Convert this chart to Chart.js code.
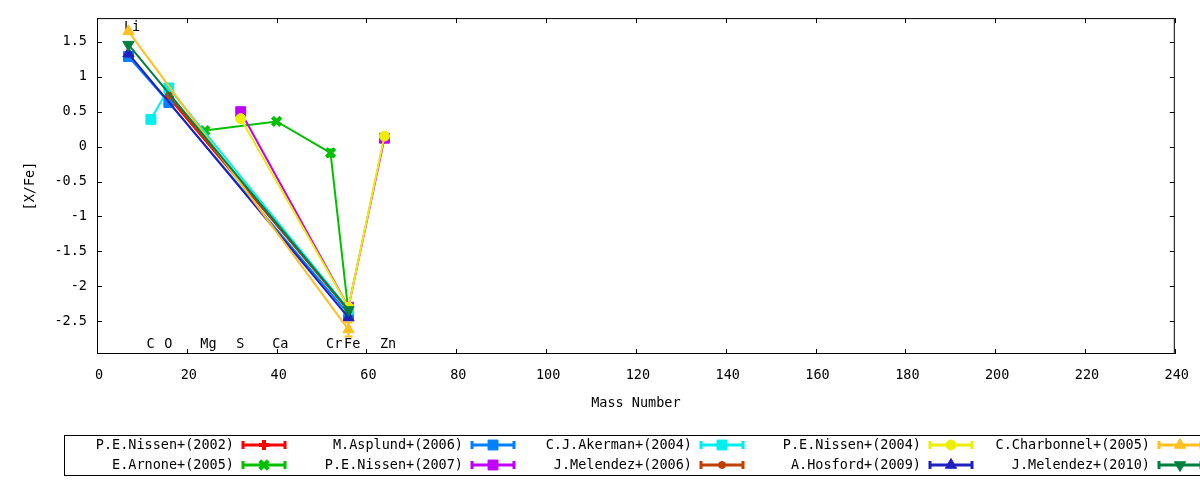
<!DOCTYPE html>
<html>
<head>
<meta charset="utf-8">
<script src="https://cdn.jsdelivr.net/npm/chart.js@4/dist/chart.umd.min.js"></script>
<style>
    html, body { margin: 0; padding: 0; background: #ffffff; }
    #chart { display: block; }
</style>
</head>
<body>
<canvas id="chart" width="1200" height="480"></canvas>
<script>
// Elements and their mass numbers
const elementSymbols = ['Li', 'C', 'O', 'Mg', 'S', 'Ca', 'Cr', 'Fe', 'Zn'];
const massNumbers = [7, 12, 16, 24, 32, 40, 52, 56, 64];

// Series (legend order, column by column)
const seriesLabels = [
    'P.E.Nissen+(2002)', 'E.Arnone+(2005)', 'M.Asplund+(2006)', 'P.E.Nissen+(2007)',
    'C.J.Akerman+(2004)', 'J.Melendez+(2006)', 'P.E.Nissen+(2004)', 'A.Hosford+(2009)',
    'C.Charbonnel+(2005)', 'J.Melendez+(2010)'
];
const seriesColors = [
    '#ff0000', '#00c000', '#0080ff', '#c000ff', '#00eeee',
    '#c04000', '#eeee00', '#2020c0', '#ffc020', '#008040'
];

const nissen2002Elements = ['O', 'Fe'];
const nissen2002Values = [0.70, -2.34];

const arnone2005Elements = ['Mg', 'Ca', 'Cr', 'Fe'];
const arnone2005Values = [0.23, 0.36, -0.09, -2.38];
const arnone2005Errors = [0, 0, 0.05, 0];

const asplund2006Elements = ['Li', 'O', 'Fe'];
const asplund2006Values = [1.29, 0.63, -2.40];

const nissen2007Elements = ['S', 'Fe', 'Zn'];
const nissen2007Values = [0.50, -2.30, 0.12];

const akerman2004Elements = ['C', 'O', 'Fe'];
const akerman2004Values = [0.39, 0.84, -2.33];

const melendez2006Elements = ['O', 'Fe'];
const melendez2006Values = [0.73, -2.35];

const nissen2004Elements = ['S', 'Fe', 'Zn'];
const nissen2004Values = [0.40, -2.30, 0.15];

const hosford2009Elements = ['Li', 'Fe'];
const hosford2009Values = [1.33, -2.45];

const charbonnel2005Elements = ['Li', 'Fe'];
const charbonnel2005Values = [1.65, -2.62];
const charbonnel2005Errors = [0, 0.10];

const melendez2010Elements = ['Li', 'Fe'];
const melendez2010Values = [1.46, -2.34];

const seriesElements = [
    nissen2002Elements, arnone2005Elements, asplund2006Elements, nissen2007Elements,
    akerman2004Elements, melendez2006Elements, nissen2004Elements, hosford2009Elements,
    charbonnel2005Elements, melendez2010Elements
];
const seriesValues = [
    nissen2002Values, arnone2005Values, asplund2006Values, nissen2007Values,
    akerman2004Values, melendez2006Values, nissen2004Values, hosford2009Values,
    charbonnel2005Values, melendez2010Values
];
const seriesErrors = [
    null, arnone2005Errors, null, null, null, null, null, null, charbonnel2005Errors, null
];

// marker look per series (gnuplot point types)
const markerStyles = ['cross', 'crossRot', 'rect', 'rect', 'rect', 'circle', 'circle', 'triangle', 'triangle', 'triangle'];
const markerRadius = [5, 6, 7, 7, 7, 3.5, 5, 6.5, 6.5, 6.5];
const markerRotation = [0, 0, 0, 0, 0, 0, 0, 0, 0, 180];

const FONT = '"DejaVu Sans Mono", "Liberation Mono", monospace';
const FONT_SIZE = 13.5;

function massOf(symbol) {
    return massNumbers[elementSymbols.indexOf(symbol)];
}

function markerBorder(i) {
    return (markerStyles[i] === 'cross' || markerStyles[i] === 'crossRot') ? 4 : 1;
}

const datasets = seriesLabels.map((label, i) => ({
    label: label,
    data: seriesElements[i].map((el, j) => ({ x: massOf(el), y: seriesValues[i][j] })),
    errors: seriesErrors[i],
    borderColor: seriesColors[i],
    backgroundColor: seriesColors[i],
    borderWidth: 2,
    pointStyle: markerStyles[i],
    pointRadius: markerRadius[i],
    pointRotation: markerRotation[i],
    pointBorderWidth: markerBorder(i),
    pointBackgroundColor: seriesColors[i],
    pointBorderColor: seriesColors[i],
    tension: 0,
    fill: false,
    showLine: true,
    order: seriesLabels.length - i   // later series on top, like gnuplot
}));

function drawMarker(ctx, i, x, y) {
    const opts = {
        pointStyle: markerStyles[i],
        radius: markerRadius[i],
        rotation: markerRotation[i],
        borderWidth: markerBorder(i)
    };
    ctx.save();
    ctx.fillStyle = seriesColors[i];
    ctx.strokeStyle = seriesColors[i];
    ctx.lineWidth = opts.borderWidth;
    if (Chart.helpers && Chart.helpers.drawPoint) {
        Chart.helpers.drawPoint(ctx, opts, x, y);
    } else {
        ctx.beginPath();
        ctx.arc(x, y, opts.radius, 0, Math.PI * 2);
        ctx.fill();
    }
    ctx.restore();
}

// Box, inward ticks and element labels
const framePlugin = {
    id: 'frame',
    beforeDatasetsDraw(chart) {
        const { ctx, chartArea: a, scales: { x, y } } = chart;
        ctx.save();
        ctx.strokeStyle = '#000';
        ctx.lineWidth = 1;
        ctx.strokeRect(a.left + 0.5, a.top + 0.5, a.right - a.left - 1, a.bottom - a.top - 1);
        ctx.beginPath();
        const tl = 5;
        x.ticks.forEach(t => {
            const px = Math.round(x.getPixelForValue(t.value)) + 0.5;
            ctx.moveTo(px, a.bottom); ctx.lineTo(px, a.bottom - tl);
            ctx.moveTo(px, a.top); ctx.lineTo(px, a.top + tl);
        });
        y.ticks.forEach(t => {
            const py = Math.round(y.getPixelForValue(t.value)) + 0.5;
            ctx.moveTo(a.left, py); ctx.lineTo(a.left + tl, py);
            ctx.moveTo(a.right, py); ctx.lineTo(a.right - tl, py);
        });
        ctx.stroke();

        // element labels, left aligned one mass unit before the element
        ctx.fillStyle = '#000';
        ctx.font = FONT_SIZE + 'px ' + FONT;
        ctx.textAlign = 'left';
        ctx.textBaseline = 'middle';
        elementSymbols.forEach((el, k) => {
            const lx = x.getPixelForValue(massNumbers[k] - 1);
            const ly = y.getPixelForValue(el === 'Li' ? 1.70 : -2.84);
            ctx.fillText(el, lx, ly);
        });
        ctx.restore();
    },
    afterDatasetsDraw(chart) {
        const { ctx, scales: { y } } = chart;
        ctx.save();
        chart.data.datasets.forEach((ds, i) => {
            if (!ds.errors) return;
            const meta = chart.getDatasetMeta(i);
            ctx.strokeStyle = ds.borderColor;
            ctx.lineWidth = 2;
            ds.errors.forEach((e, j) => {
                if (!e) return;
                const px = meta.data[j].x;
                const y1 = y.getPixelForValue(ds.data[j].y + e);
                const y2 = y.getPixelForValue(ds.data[j].y - e);
                ctx.beginPath();
                ctx.moveTo(px, y1); ctx.lineTo(px, y2);
                ctx.moveTo(px - 4, y1); ctx.lineTo(px + 4, y1);
                ctx.moveTo(px - 4, y2); ctx.lineTo(px + 4, y2);
                ctx.stroke();
            });
        });
        ctx.restore();
    }
};

// gnuplot style legend below the plot
const legendPlugin = {
    id: 'gpLegend',
    afterDraw(chart) {
        const ctx = chart.ctx;
        ctx.save();
        ctx.strokeStyle = '#000';
        ctx.lineWidth = 1;
        ctx.strokeRect(64.5, 435.5, 1150, 40);
        ctx.font = FONT_SIZE + 'px ' + FONT;
        ctx.textAlign = 'right';
        ctx.textBaseline = 'middle';
        seriesLabels.forEach((label, i) => {
            const col = Math.floor(i / 2);
            const row = i % 2;
            const sx = 242 + col * 229;
            const sy = 445 + row * 20;
            ctx.fillStyle = '#000';
            ctx.fillText(label, sx - 8, sy);
            ctx.strokeStyle = seriesColors[i];
            ctx.lineWidth = 3;
            ctx.beginPath();
            ctx.moveTo(sx, sy); ctx.lineTo(sx + 44, sy);
            ctx.moveTo(sx + 1, sy - 4); ctx.lineTo(sx + 1, sy + 4);
            ctx.moveTo(sx + 43, sy - 4); ctx.lineTo(sx + 43, sy + 4);
            ctx.stroke();
            drawMarker(ctx, i, sx + 22, sy);
        });
        ctx.restore();
    }
};

new Chart(document.getElementById('chart').getContext('2d'), {
    type: 'line',
    data: { datasets: datasets },
    options: {
        responsive: false,
        animation: false,
        devicePixelRatio: 1,
        layout: { padding: { left: 0, top: 17, right: 21, bottom: 56 } },
        plugins: {
            legend: { display: false },
            tooltip: { enabled: false }
        },
        scales: {
            x: {
                type: 'linear',
                min: 0,
                max: 240,
                afterFit: (scale) => { scale.height = 70; },
                grid: { display: false, drawTicks: false },
                border: { display: false },
                ticks: {
                    stepSize: 20,
                    autoSkip: false,
                    maxRotation: 0,
                    padding: 13,
                    labelOffset: 2,
                    color: '#000',
                    font: { family: FONT, size: FONT_SIZE }
                },
                title: {
                    display: true,
                    text: 'Mass Number',
                    color: '#000',
                    font: { family: FONT, size: FONT_SIZE },
                    padding: { top: 0, bottom: 12 }
                }
            },
            y: {
                type: 'linear',
                min: -2.97,
                max: 1.84,
                afterFit: (scale) => { scale.width = 97; },
                grid: { display: false, drawTicks: false },
                border: { display: false },
                ticks: {
                    stepSize: 0.5,
                    includeBounds: false,
                    padding: 10,
                    color: '#000',
                    font: { family: FONT, size: FONT_SIZE },
                    callback: (v) => String(Math.round(v * 10) / 10)
                },
                title: {
                    display: true,
                    text: '[X/Fe]',
                    color: '#000',
                    font: { family: FONT, size: FONT_SIZE },
                    padding: { top: 22, bottom: 0 }
                }
            }
        }
    },
    plugins: [framePlugin, legendPlugin]
});
</script>
</body>
</html>
